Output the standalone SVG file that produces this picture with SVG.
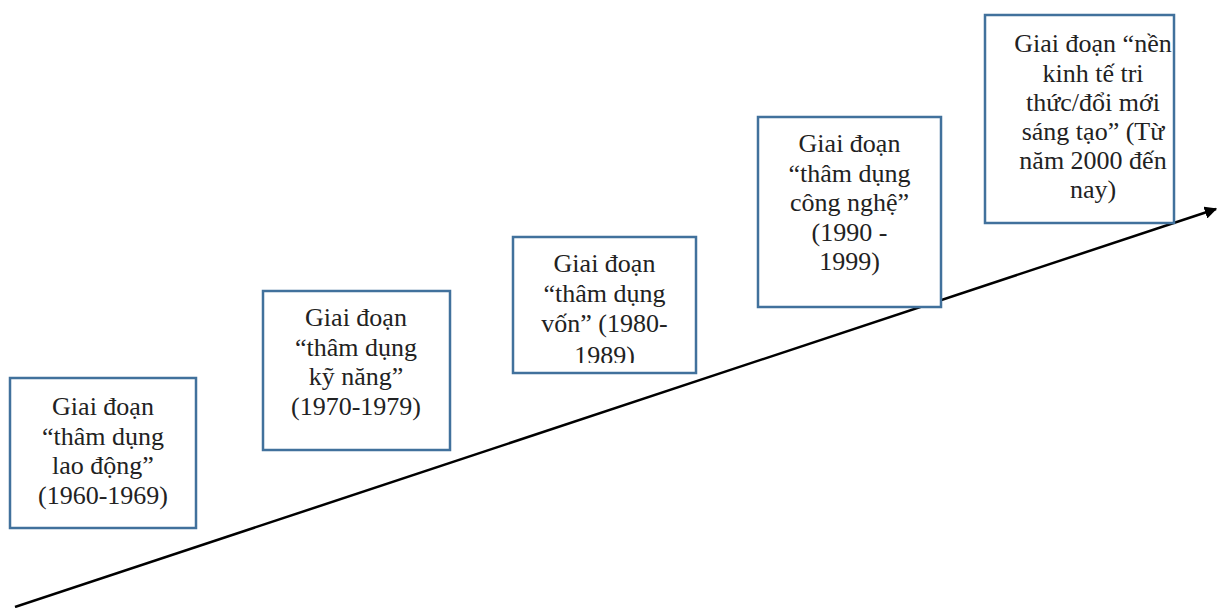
<svg xmlns="http://www.w3.org/2000/svg" width="1218" height="608" viewBox="0 0 1218 608">
<style>
.box{fill:#ffffff;stroke:#41719C;stroke-width:2.5}
.t{font-family:'Liberation Serif','Times New Roman',serif;font-size:26px;fill:#222222;text-anchor:middle}
.conn{stroke:#000000;stroke-width:2.5;fill:none}
</style>
<defs>
<marker id="arr" viewBox="0 0 10 10" refX="9" refY="5" markerWidth="5" markerHeight="5" orient="auto" markerUnits="strokeWidth">
<path d="M0,0 L10,5 L0,10 Z" fill="#000000"/>
</marker>
<clipPath id="c3"><rect x="513" y="237" width="183" height="126"/></clipPath>
</defs>
<rect width="1218" height="608" fill="#ffffff"/>
<g id="connectors">
<line class="conn" x1="15" y1="607" x2="1216" y2="209" marker-end="url(#arr)"/>
</g>
<g id="n1">
<rect class="box" x="10" y="378" width="186" height="150"/>
<text class="t" x="103" y="415">Giai đoạn</text>
<text class="t" x="103" y="444.5">“thâm dụng</text>
<text class="t" x="103" y="474">lao động”</text>
<text class="t" x="103" y="503.5">(1960-1969)</text>
</g>
<g id="n2">
<rect class="box" x="263" y="291" width="187" height="159"/>
<text class="t" x="356" y="326">Giai đoạn</text>
<text class="t" x="356" y="355.5">“thâm dụng</text>
<text class="t" x="356" y="385">kỹ năng”</text>
<text class="t" x="356" y="414.5">(1970-1979)</text>
</g>
<g id="n3">
<rect class="box" x="513" y="237" width="183" height="136"/>
<g clip-path="url(#c3)">
<text class="t" x="604.5" y="272">Giai đoạn</text>
<text class="t" x="604.5" y="302">“thâm dụng</text>
<text class="t" x="604.5" y="332">vốn” (1980-</text>
<text class="t" x="604.5" y="364">1989)</text>
</g>
</g>
<g id="n4">
<rect class="box" x="758" y="117" width="183" height="190"/>
<text class="t" x="849.5" y="152">Giai đoạn</text>
<text class="t" x="849.5" y="181.5">“thâm dụng</text>
<text class="t" x="849.5" y="211">công nghệ”</text>
<text class="t" x="849.5" y="240.5">(1990 -</text>
<text class="t" x="849.5" y="270">1999)</text>
</g>
<g id="n5">
<rect class="box" x="985" y="15" width="189" height="208"/>
<text class="t" x="1093" y="52">Giai đoạn “nền</text>
<text class="t" x="1093" y="81.5">kinh tế tri</text>
<text class="t" x="1093" y="111">thức/đổi mới</text>
<text class="t" x="1093" y="140">sáng tạo” (Từ</text>
<text class="t" x="1093" y="169">năm 2000 đến</text>
<text class="t" x="1093" y="198">nay)</text>
</g>
</svg>
